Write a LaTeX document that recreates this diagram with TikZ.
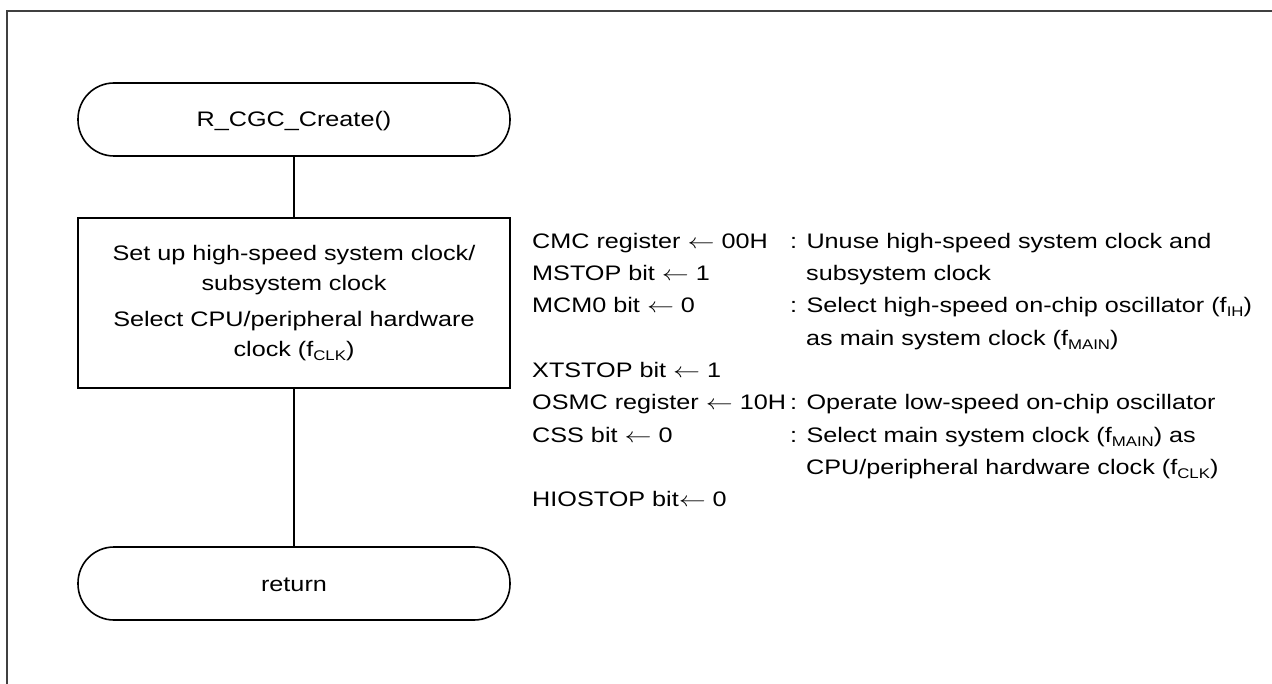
\documentclass[tikz,border=0pt]{standalone}
\usepackage{fontspec}
\setmainfont{Liberation Sans}[FakeStretch=1.2]
\definecolor{framegray}{RGB}{64,64,64}
\newcommand\dfont{\fontsize{21pt}{30pt}\selectfont}
\newcommand\sbs[1]{\raisebox{-4pt}{\fontsize{14pt}{14pt}\selectfont #1}}
\newcommand\larr{\scalebox{1.3}[1]{$\leftarrow$}}
\begin{document}
\begin{tikzpicture}[x=1pt,y=-1pt,
  term/.style={draw,line width=1.6pt,rounded corners=36pt,minimum width=432pt,minimum height=73pt,inner sep=0pt,font=\dfont,text height=15pt,text depth=0pt},
  procbox/.style={draw,line width=1.6pt,minimum width=432pt,minimum height=170pt,inner sep=0pt,font=\dfont,align=center},
  conn/.style={line width=1.4pt},
  lt/.style={inner sep=0pt,anchor=base west,font=\dfont},
  framel/.style={draw=framegray,line width=1.5pt}]
\useasboundingbox (0,0) rectangle (1272,684);
\draw[framel] (7,684) -- (7,11) -- (1272,11);
\node[term] (start) at (294,119.5) {R\_CGC\_Create()};
\node[procbox] (proc) at (294,303) {Set up high-speed system clock/\\subsystem clock\\[6.6pt]Select CPU/peripheral hardware\\clock (f\sbs{CLK})};
\node[term] (ret) at (294,583.5) {return};
\draw[conn] (start) -- (proc);
\draw[conn] (proc) -- (ret);
% register settings
\node[lt] (l0) at (532,248.3) {CMC register \larr{} 00H};
\node[lt] (l1) at (532,280.6) {MSTOP bit \larr{} 1};
\node[lt] (l2) at (532,312.9) {MCM0 bit \larr{} 0};
\node[lt] (l4) at (532,377.5) {XTSTOP bit \larr{} 1};
\node[lt] (l5) at (532,409.8) {OSMC register \larr{} 10H};
\node[lt] (l6) at (532,442.1) {CSS bit \larr{} 0};
\node[lt] (l8) at (532,506.7) {HIOSTOP bit\larr{} 0};
% comments
\node[lt] (r0) at (790,248.3) {: Unuse high-speed system clock and};
\node[lt] (r1) at (806,280.6) {subsystem clock};
\node[lt] (r2) at (790,312.9) {: Select high-speed on-chip oscillator (f\sbs{IH})};
\node[lt] (r3) at (806,345.2) {as main system clock (f\sbs{MAIN})};
\node[lt] (r5) at (790,409.8) {: Operate low-speed on-chip oscillator};
\node[lt] (r6) at (790,442.1) {: Select main system clock (f\sbs{MAIN}) as};
\node[lt] (r7) at (806,474.4) {CPU/peripheral hardware clock (f\sbs{CLK})};
\end{tikzpicture}
\end{document}
